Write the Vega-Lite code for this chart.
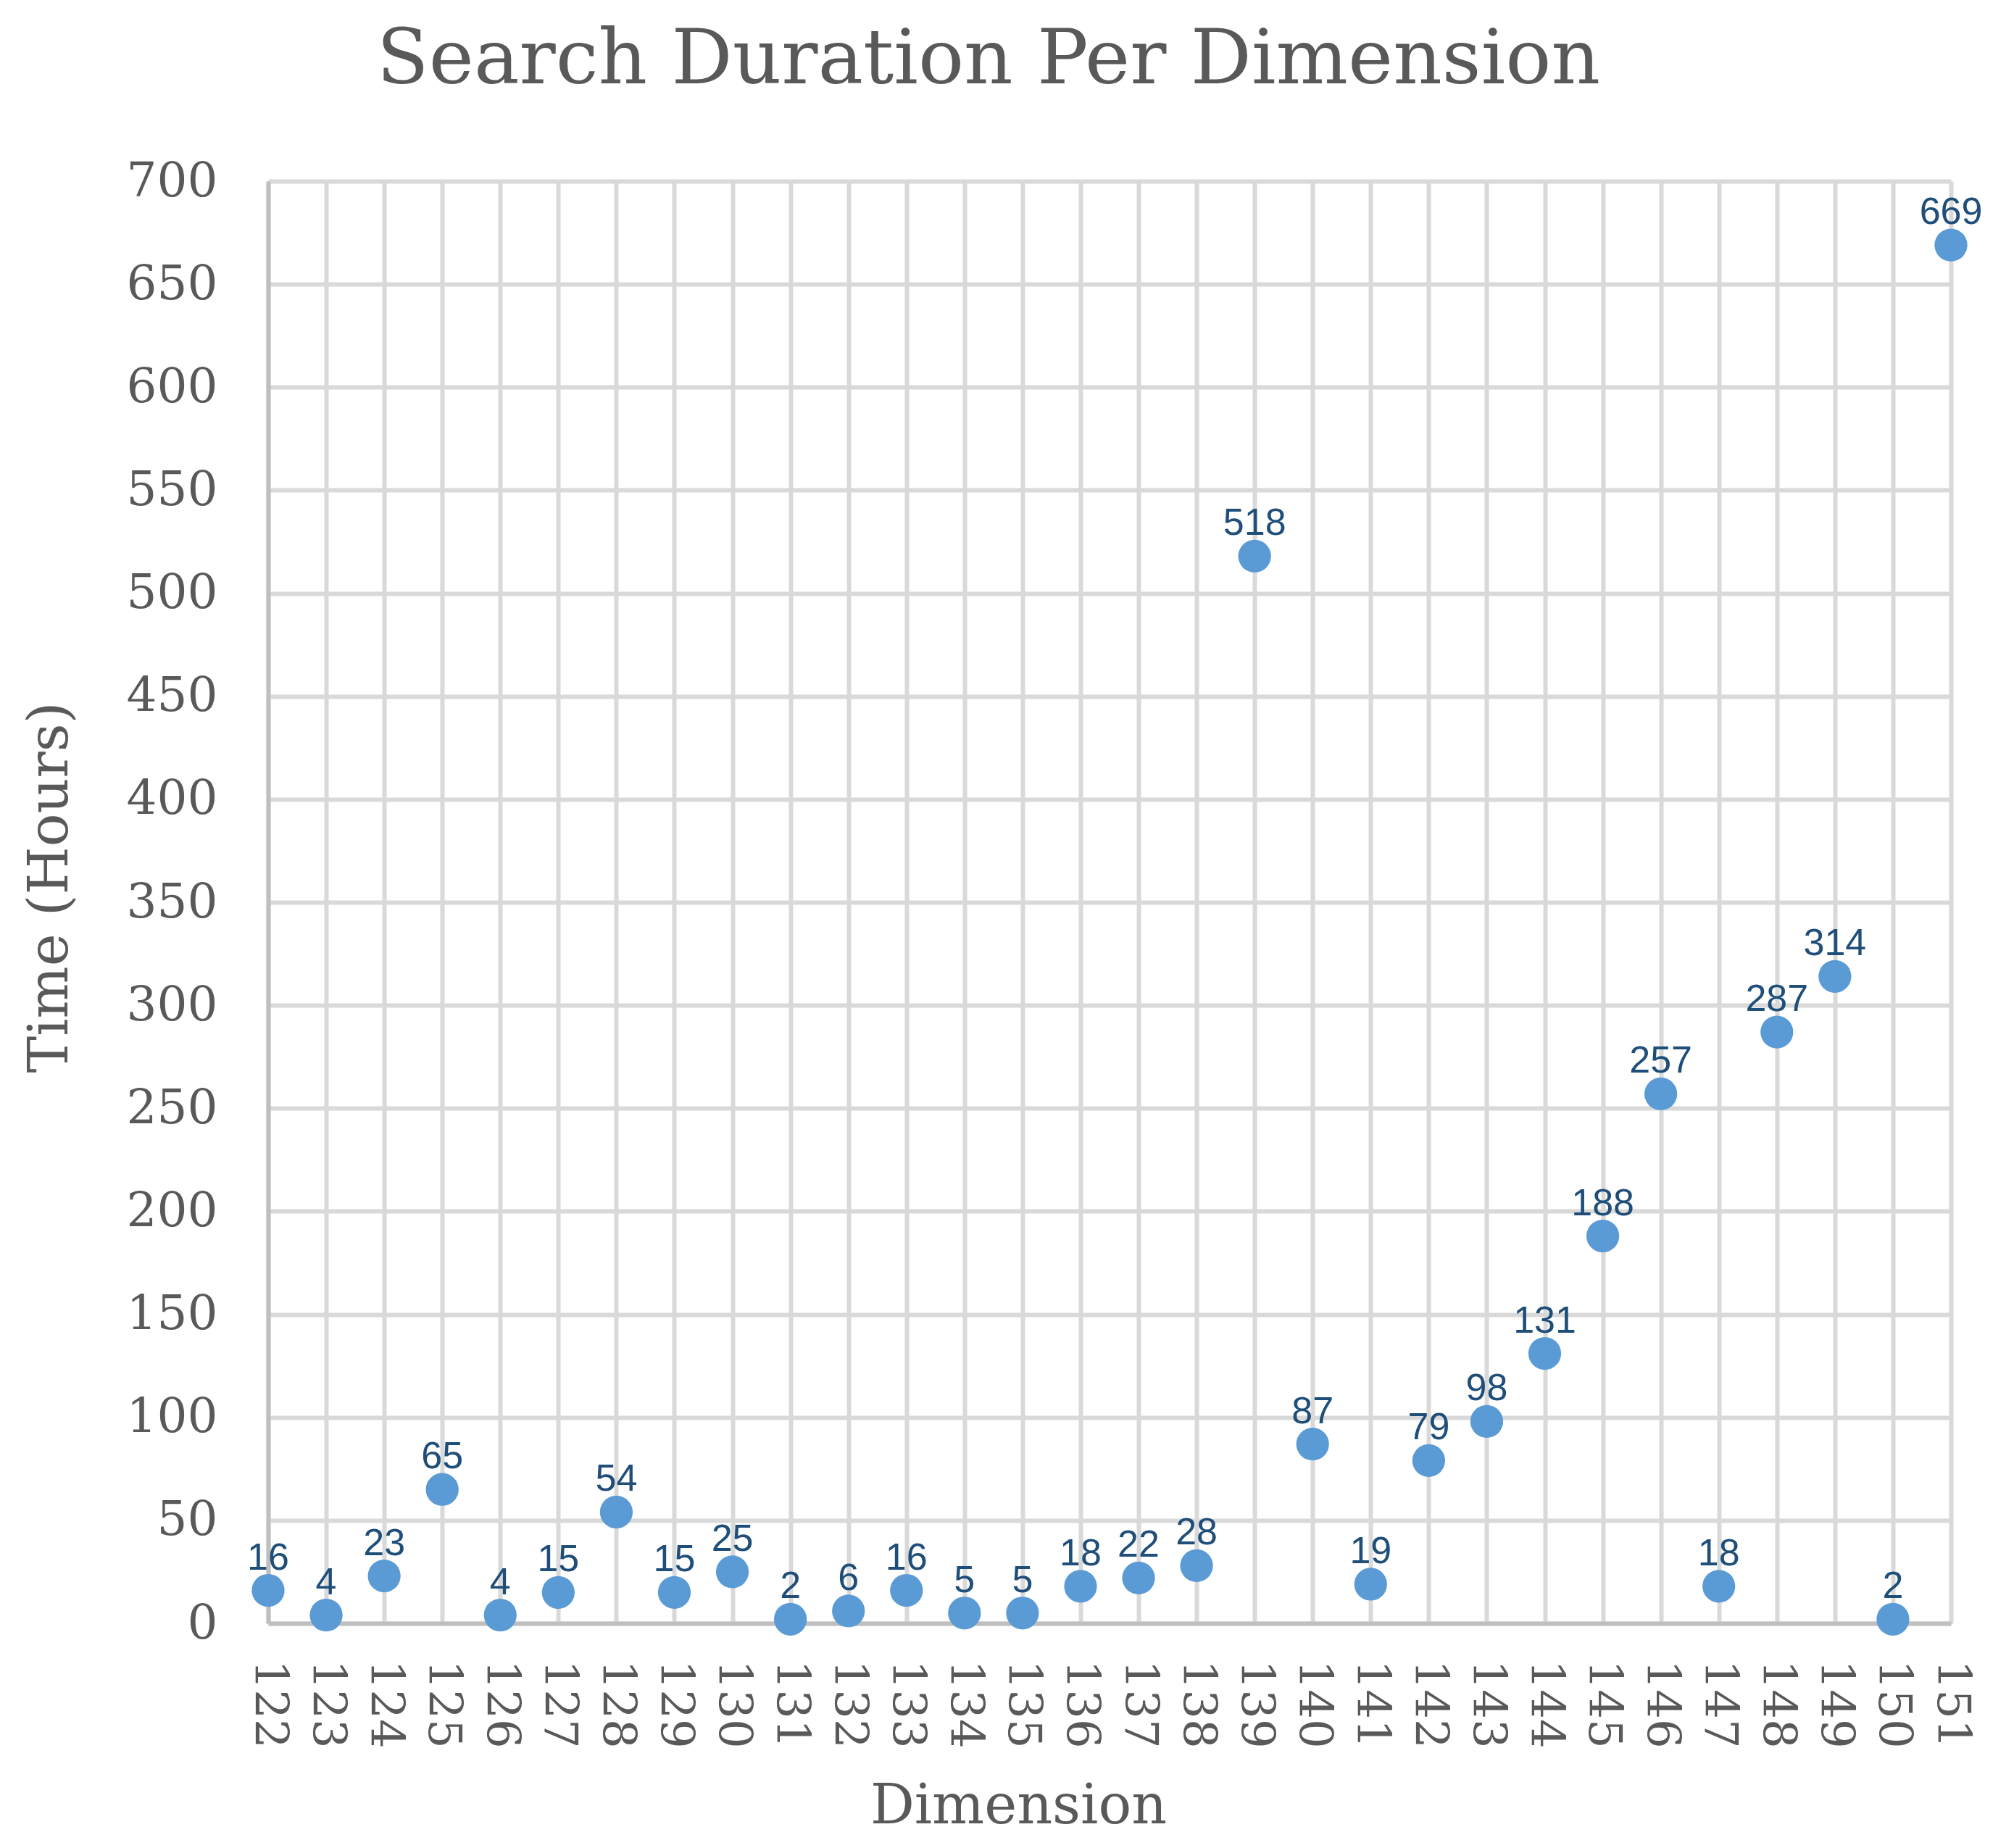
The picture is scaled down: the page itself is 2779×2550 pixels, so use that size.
{
  "$schema": "https://vega.github.io/schema/vega-lite/v6.json",
  "autosize": "none",
  "width": 2322,
  "height": 1990,
  "padding": {"left": 370, "top": 250, "right": 87, "bottom": 310},
  "background": "white",
  "title": {
    "text": "Search Duration Per Dimension",
    "font": "DejaVu Serif",
    "fontSize": 105,
    "fontWeight": "normal",
    "color": "#595959",
    "anchor": "middle",
    "frame": "group",
    "baseline": "alphabetic",
    "dx": -167,
    "dy": 111,
    "offset": 108
  },
  "config": {
    "view": {"stroke": null},
    "axis": {
      "labelFont": "DejaVu Serif",
      "labelColor": "#595959",
      "titleFont": "DejaVu Serif",
      "titleColor": "#595959",
      "titleFontWeight": "normal",
      "gridColor": "#D9D9D9",
      "gridWidth": 6,
      "domainColor": "#BFBFBF",
      "domainWidth": 6,
      "ticks": false,
      "tickSize": 0
    }
  },
  "data": {
    "values": [
      {"dimension": 122, "hours": 16},
      {"dimension": 123, "hours": 4},
      {"dimension": 124, "hours": 23},
      {"dimension": 125, "hours": 65},
      {"dimension": 126, "hours": 4},
      {"dimension": 127, "hours": 15},
      {"dimension": 128, "hours": 54},
      {"dimension": 129, "hours": 15},
      {"dimension": 130, "hours": 25},
      {"dimension": 131, "hours": 2},
      {"dimension": 132, "hours": 6},
      {"dimension": 133, "hours": 16},
      {"dimension": 134, "hours": 5},
      {"dimension": 135, "hours": 5},
      {"dimension": 136, "hours": 18},
      {"dimension": 137, "hours": 22},
      {"dimension": 138, "hours": 28},
      {"dimension": 139, "hours": 518},
      {"dimension": 140, "hours": 87},
      {"dimension": 141, "hours": 19},
      {"dimension": 142, "hours": 79},
      {"dimension": 143, "hours": 98},
      {"dimension": 144, "hours": 131},
      {"dimension": 145, "hours": 188},
      {"dimension": 146, "hours": 257},
      {"dimension": 147, "hours": 18},
      {"dimension": 148, "hours": 287},
      {"dimension": 149, "hours": 314},
      {"dimension": 150, "hours": 2},
      {"dimension": 151, "hours": 669}
    ]
  },
  "encoding": {
    "x": {
      "field": "dimension",
      "type": "ordinal",
      "sort": "ascending",
      "scale": {"type": "point", "padding": 0},
      "axis": {
        "title": "Dimension",
        "titleFontSize": 76,
        "titleX": 1035,
        "titleY": 275,
        "titleBaseline": "alphabetic",
        "labelFontSize": 64,
        "labelAngle": 90,
        "labelPadding": 50,
        "grid": true
      }
    },
    "y": {
      "field": "hours",
      "type": "quantitative",
      "scale": {"domain": [0, 700], "nice": false},
      "axis": {
        "title": "Time (Hours)",
        "titleFontSize": 76,
        "titleAngle": -90,
        "titleX": -278,
        "titleY": 974,
        "titleAlign": "center",
        "titleBaseline": "alphabetic",
        "labelFontSize": 66,
        "labelPadding": 70,
        "values": [0, 50, 100, 150, 200, 250, 300, 350, 400, 450, 500, 550, 600, 650, 700],
        "grid": true
      }
    }
  },
  "layer": [
    {
      "mark": {"type": "point", "shape": "circle", "filled": true, "size": 2050, "color": "#5B9BD5", "opacity": 1}
    },
    {
      "mark": {"type": "text", "font": "Liberation Sans", "fontSize": 52, "color": "#1F4E79", "align": "center", "baseline": "alphabetic", "dy": -29},
      "encoding": {"text": {"field": "hours", "type": "quantitative"}}
    }
  ]
}
